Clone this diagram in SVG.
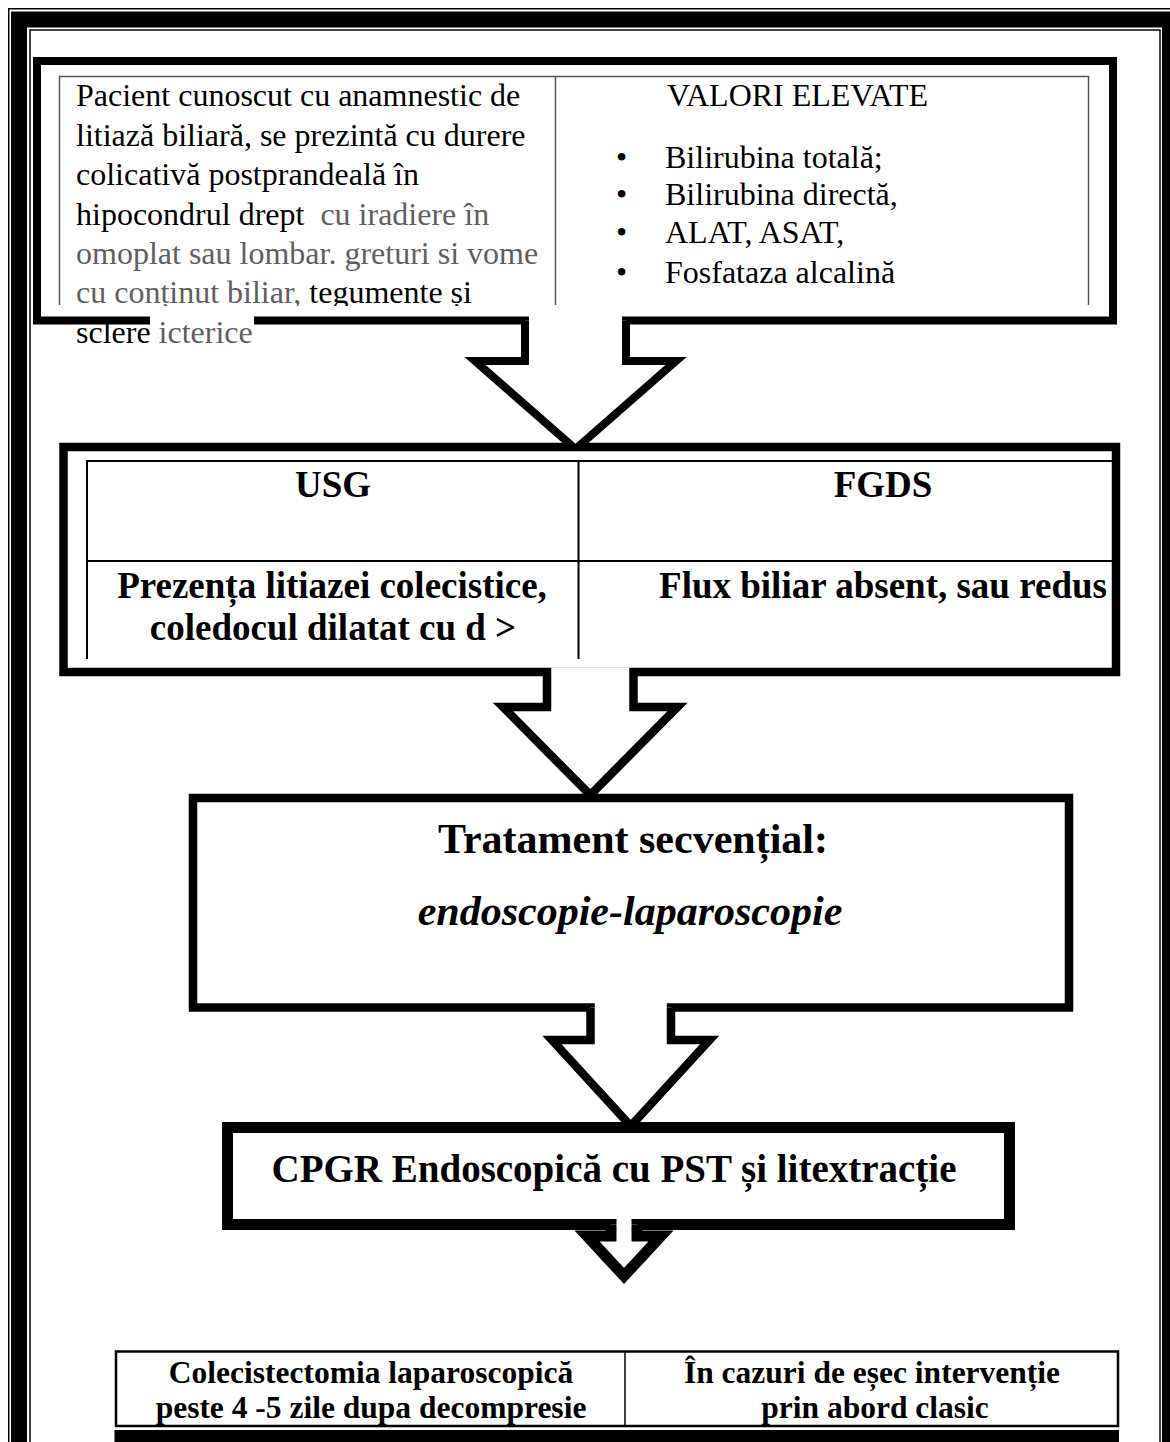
<svg xmlns="http://www.w3.org/2000/svg" width="1170" height="1442" viewBox="0 0 1170 1442">
<defs>
<style>
.t{font-family:"Liberation Serif","Times New Roman",serif;fill:#000}
.r{font-size:32px}
.g{fill:#5f5f5f}
.b{font-weight:bold}
.m{text-anchor:middle}
.box{fill:#fff;stroke:#000;stroke-linejoin:miter}
.arr{fill:#fff;stroke:#000;stroke-linejoin:miter;stroke-miterlimit:10}
.tl{stroke:#555;stroke-width:1.5;fill:none}
.tk{stroke:#000;stroke-width:2;fill:none}
</style>
<clipPath id="c1"><rect x="50" y="70" width="1050" height="236"/></clipPath>
<clipPath id="c2"><rect x="80" y="455" width="1032" height="204"/></clipPath>
<clipPath id="ca1"><rect x="0" y="300" width="1170" height="147"/></clipPath>
<clipPath id="ca2"><rect x="0" y="660" width="1170" height="138"/></clipPath>
<clipPath id="ca3"><rect x="0" y="990" width="1170" height="137.5"/></clipPath>
</defs>
<rect width="1170" height="1442" fill="#fff"/>
<g id="page-border" fill="none" stroke="#000">
<rect x="8.75" y="8.75" width="1175" height="1500" stroke-width="1.5"/>
<rect x="19" y="19.5" width="1151" height="1500" stroke-width="16"/>
<rect x="30" y="30" width="1130" height="1500" stroke-width="1.5"/>
</g>

<g id="node-symptoms">
<rect class="box" x="37" y="61" width="1076" height="259.5" stroke-width="8"/>
<g clip-path="url(#c1)">
<path class="tl" d="M59.5,305 V76.5 H1088.5 V305 M555.5,76.5 V305"/>
<text class="t r" x="76" y="106">Pacient cunoscut cu anamnestic de</text>
<text class="t r" x="76" y="146">litiază biliară, se prezintă cu durere</text>
<text class="t r" x="76" y="185">colicativă postprandeală în</text>
<text class="t r" x="76" y="225" xml:space="preserve">hipocondrul drept <tspan class="g"> cu iradiere în</tspan></text>
<text class="t r g" x="76" y="264">omoplat sau lombar. greturi si vome</text>
<text class="t r" x="76" y="303" xml:space="preserve"><tspan class="g">cu conținut biliar,</tspan> tegumente și</text>
<text class="t r" x="667" y="106">VALORI ELEVATE</text>
<text class="t r" x="616" y="168">•</text>
<text class="t r" x="665" y="168">Bilirubina totală;</text>
<text class="t r" x="616" y="205">•</text>
<text class="t r" x="665" y="205">Bilirubina directă,</text>
<text class="t r" x="616" y="243">•</text>
<text class="t r" x="665" y="243">ALAT, ASAT,</text>
<text class="t r" x="616" y="283">•</text>
<text class="t r" x="665" y="283">Fosfataza alcalină</text>
</g>
<rect x="150" y="313" width="104" height="38" fill="#fff"/>
<text class="t r" x="76" y="343" xml:space="preserve">sclere<tspan class="g"> icterice</tspan></text>
</g>

<g id="node-investigations">
<rect class="box" x="63.5" y="447" width="1052.5" height="225" stroke-width="8.5"/>
<g clip-path="url(#c2)">
<path class="tk" d="M87,659 V461 H1112 M87,561 H1112 M578.5,461 V659"/>
<text class="t b m" font-size="37" x="333" y="497">USG</text>
<text class="t b m" font-size="37" x="883" y="497">FGDS</text>
<text class="t b m" font-size="37" x="332" y="598">Prezența litiazei colecistice,</text>
<text class="t b m" font-size="37" x="333" y="640">coledocul dilatat cu d &gt;</text>
<text class="t b m" font-size="37" x="883" y="598">Flux biliar absent, sau redus</text>
</g>
</g>

<g id="node-treatment">
<rect class="box" x="193" y="798" width="876" height="209.5" stroke-width="8.5"/>
<text class="t b m" font-size="42" x="633" y="853">Tratament secvențial:</text>
<text class="t b m" font-size="42" font-style="italic" x="630" y="925">endoscopie-laparoscopie</text>
</g>

<g id="node-cpgr">
<rect class="box" x="227.5" y="1127.5" width="782" height="97" stroke-width="11"/>
<text class="t b m" font-size="39" x="614" y="1182">CPGR Endoscopică cu PST și litextracție</text>
</g>

<g id="node-surgery">
<rect x="116" y="1351.5" width="1002" height="74.5" fill="#fff" stroke="#000" stroke-width="2.5"/>
<line x1="625" y1="1351.5" x2="625" y2="1426" stroke="#000" stroke-width="1.5"/>
<rect x="114.5" y="1430" width="1004.5" height="20" fill="#000"/>
<text class="t b m" font-size="31.5" x="371" y="1383">Colecistectomia laparoscopică</text>
<text class="t b m" font-size="31.5" x="371" y="1418">peste 4 -5 zile dupa decompresie</text>
<text class="t b m" font-size="31.5" x="872" y="1383">În cazuri de eșec intervenție</text>
<text class="t b m" font-size="31.5" x="875" y="1418">prin abord clasic</text>
</g>

<g id="connectors">
<g id="arrow1" clip-path="url(#ca1)">
<path class="arr" stroke-width="8" d="M525,320.5 V361 H475 L575.5,449 L676,361 H626 V320.5"/>
<rect x="529" y="316" width="93" height="5" fill="#fff"/>
</g>
<g id="arrow2" clip-path="url(#ca2)">
<path class="arr" stroke-width="8.5" d="M547,672 V707 H503 L590.25,795 L677.5,707 H633.5 V672"/>
<rect x="551.25" y="667.5" width="78" height="5" fill="#fff"/>
</g>
<g id="arrow3" clip-path="url(#ca3)">
<path class="arr" stroke-width="8.5" d="M590.5,1007.5 V1040 H552 L630.75,1126 L709.5,1040 H671 V1007.5"/>
<rect x="594.75" y="1003" width="72" height="5" fill="#fff"/>
</g>
<g id="arrow4">
<path class="arr" stroke-width="11" d="M611,1224.5 V1236 H587 L624,1276 L661,1236 H637 V1224.5"/>
<rect x="616.5" y="1218.5" width="15" height="6.5" fill="#fff"/>
</g>
</g>
</svg>
